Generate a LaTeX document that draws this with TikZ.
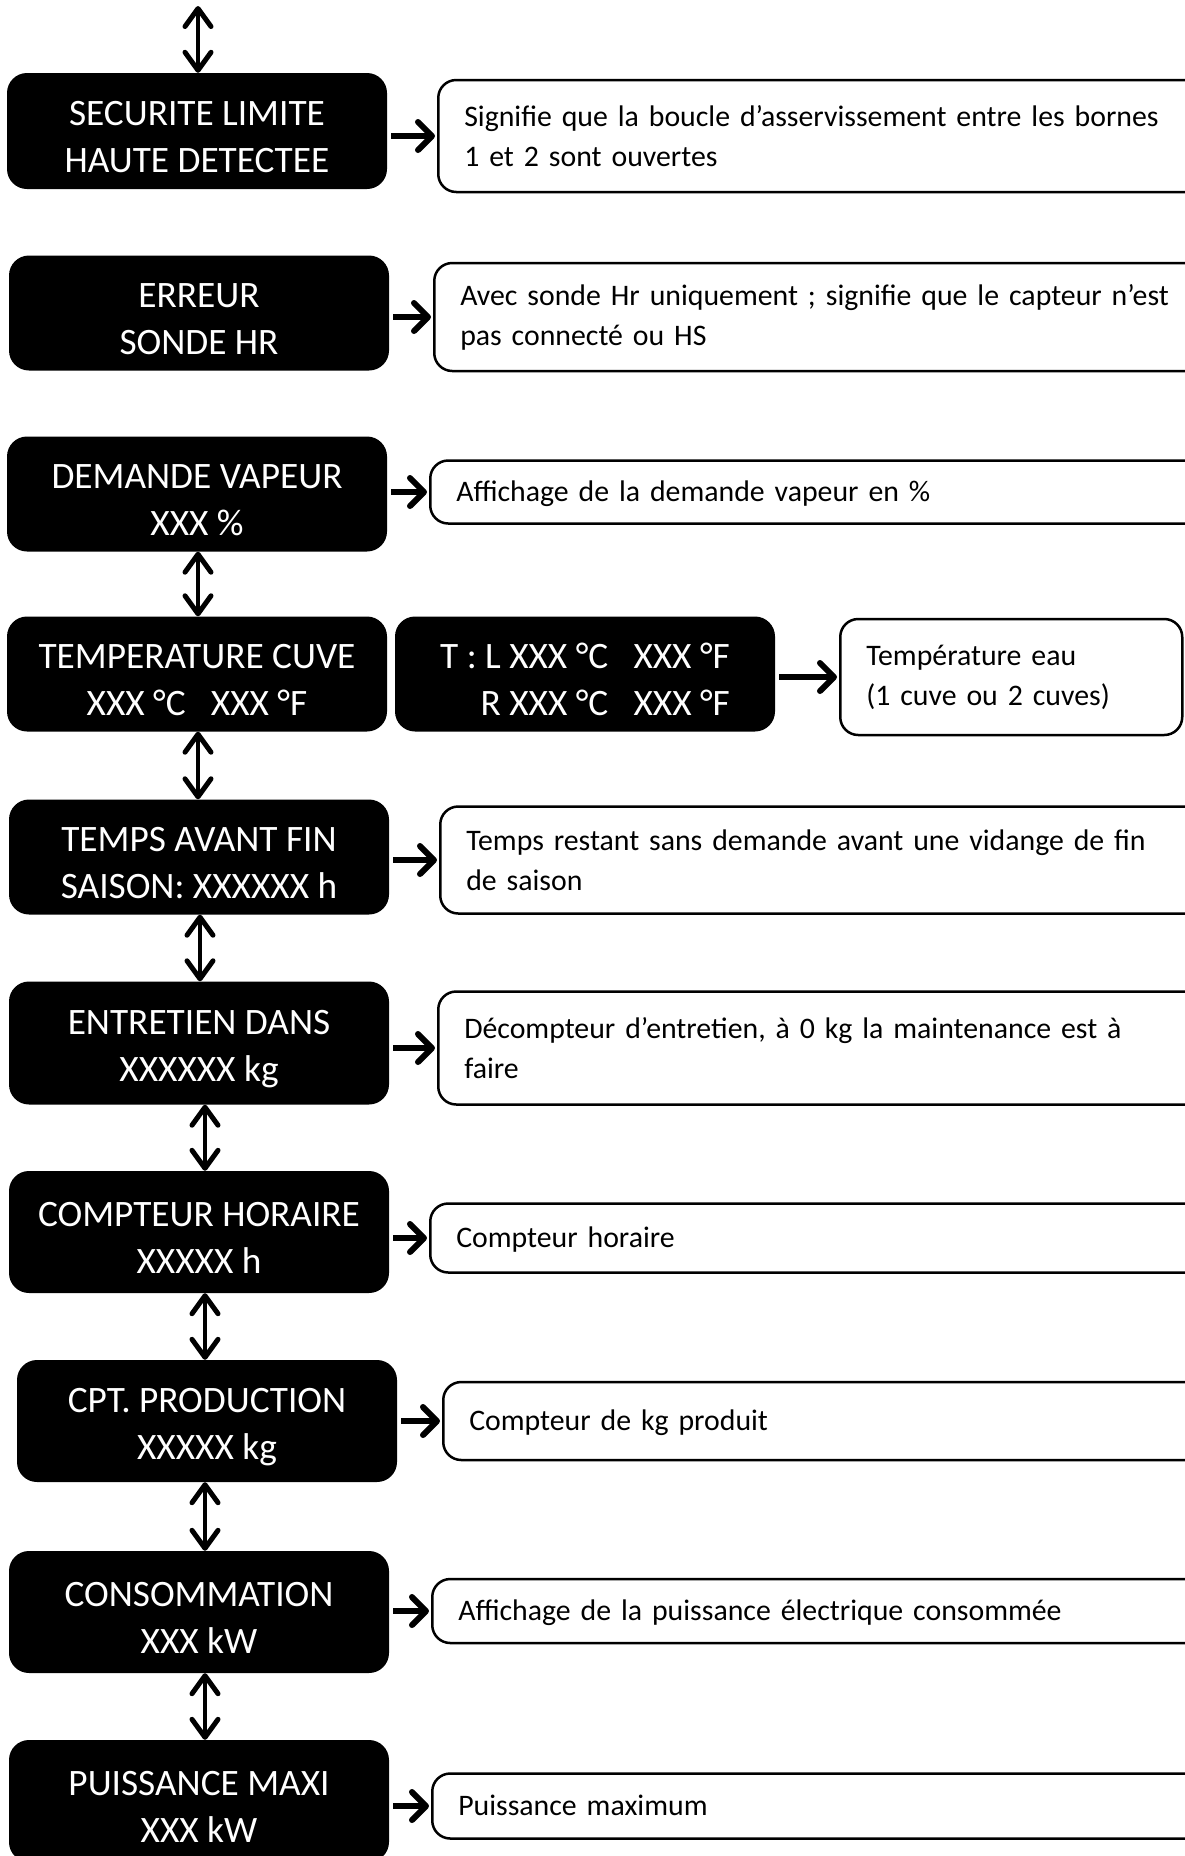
\documentclass[tikz,border=0pt]{standalone}
\usepackage{fontspec}
\setmainfont{Carlito}
\usetikzlibrary{arrows.meta}
\newcommand{\mystrutA}{\rule{0pt}{36pt}}
\begin{document}
\begin{tikzpicture}[x=1pt,y=-1pt,
  bbox/.style={fill=black, text=white, rounded corners=20pt, align=center, inner sep=0pt,
    minimum width=380pt, minimum height=116pt, font=\fontsize{37.3}{47}\selectfont},
  dbox/.style={draw=black, line width=2.5pt, fill=white, rounded corners=18pt, align=left,
    anchor=west, inner xsep=26pt, inner ysep=0pt, font=\fontsize{29.8}{40}\selectfont},
  oneline/.style={text height=23pt, text depth=5pt},
  rarr/.style={line width=6pt, shorten <=4pt, shorten >=2pt,
    -{Straight Barb[length=14pt,width=28pt,round]}},
  varr/.style={line width=4pt,
    {Straight Barb[length=18pt,width=26pt,line width=5pt,round]}-{Straight Barb[length=18pt,width=26pt,line width=5pt,round]}}
]
\useasboundingbox (0,0) rectangle (1185,1856);
\clip (0,0) rectangle (1185,1856);

% black display boxes
\node[bbox] (b1) at (197,131) {\mystrutA SECURITE LIMITE\\HAUTE DETECTEE};
\node[bbox, minimum height=115pt] (b2) at (199,313) {\mystrutA ERREUR\\SONDE HR};
\node[bbox, minimum height=115pt] (b3) at (197,494) {\mystrutA DEMANDE VAPEUR\\XXX \%};
\node[bbox, minimum height=115pt] (b4) at (197,674) {\mystrutA TEMPERATURE CUVE\\XXX °C\hspace{0.45em} XXX °F};
\node[bbox, minimum height=115pt, align=right] (b5) at (585,674) {\mystrutA T : L XXX °C\hspace{0.45em} XXX °F\\R XXX °C\hspace{0.45em} XXX °F};
\node[bbox, minimum height=115pt] (b6) at (199,857) {\mystrutA TEMPS AVANT FIN\\SAISON: XXXXXX h};
\node[bbox, minimum height=123pt] (b7) at (199,1043) {\mystrutA ENTRETIEN DANS\\XXXXXX kg};
\node[bbox, minimum height=122pt] (b8) at (199,1232) {\mystrutA COMPTEUR HORAIRE\\XXXXX h};
\node[bbox, minimum height=122pt] (b9) at (207,1421) {\mystrutA CPT. PRODUCTION\\XXXXX kg};
\node[bbox, minimum height=122pt] (b10) at (199,1612) {\mystrutA CONSOMMATION\\XXX kW};
\node[bbox, minimum height=122pt] (b11) at (199,1801) {\mystrutA PUISSANCE MAXI\\XXX kW};

% description boxes
\node[dbox, text width=751pt, minimum height=112pt] (d1) at (437,136) {Signifie que la boucle d’asservissement entre les bornes\\1 et 2 sont ouvertes};
\node[dbox, text width=755pt, minimum height=108pt] (d2) at (433,317) {Avec sonde Hr uniquement ; signifie que le capteur n’est\\pas connecté ou HS};
\node[dbox, oneline, text width=759pt, minimum height=63pt] (d3) at (429,492) {Affichage de la demande vapeur en \%};
\node[dbox, text width=290pt, minimum height=116pt] (d4) at (839,677) {Température eau\\(1 cuve ou 2 cuves)};
\node[dbox, text width=749pt, minimum height=107pt] (d5) at (439,860) {Temps restant sans demande avant une vidange de fin\\de saison};
\node[dbox, text width=751pt, minimum height=113pt] (d6) at (437,1048) {Décompteur d’entretien, à 0 kg la maintenance est à\\faire};
\node[dbox, oneline, text width=759pt, minimum height=69pt] (d7) at (429,1238) {Compteur horaire};
\node[dbox, oneline, text width=746pt, minimum height=78pt] (d8) at (442,1421) {Compteur de kg produit};
\node[dbox, oneline, text width=757pt, minimum height=64pt] (d9) at (431,1611) {Affichage de la puissance électrique consommée};
\node[dbox, oneline, text width=757pt, minimum height=65pt] (d10) at (431,1806) {Puissance maximum};

% horizontal arrows
\draw[rarr] (b1.east |- d1.west) -- (d1.west);
\draw[rarr] (b2.east |- d2.west) -- (d2.west);
\draw[rarr] (b3.east |- d3.west) -- (d3.west);
\draw[rarr] (b5.east |- d4.west) -- (d4.west);
\draw[rarr] (b6.east |- d5.west) -- (d5.west);
\draw[rarr] (b7.east |- d6.west) -- (d6.west);
\draw[rarr] (b8.east |- d7.west) -- (d7.west);
\draw[rarr] (b9.east |- d8.west) -- (d8.west);
\draw[rarr] (b10.east |- d9.west) -- (d9.west);
\draw[rarr] (b11.east |- d10.west) -- (d10.west);

% vertical double arrows
\coordinate (top) at (198,6);
\draw[varr] (top) -- ([xshift=1pt]b1.north);
\draw[varr] ([xshift=1pt]b3.south) -- ([xshift=1pt]b4.north);
\draw[varr] ([xshift=1pt]b4.south) -- ([xshift=-1pt]b6.north);
\draw[varr] ([xshift=1pt]b6.south) -- ([xshift=1pt]b7.north);
\draw[varr] ([xshift=6pt]b7.south) -- ([xshift=6pt]b8.north);
\draw[varr] ([xshift=6pt]b8.south) -- ([xshift=-2pt]b9.north);
\draw[varr] ([xshift=-2pt]b9.south) -- ([xshift=6pt]b10.north);
\draw[varr] ([xshift=6pt]b10.south) -- ([xshift=6pt]b11.north);
\end{tikzpicture}
\end{document}
